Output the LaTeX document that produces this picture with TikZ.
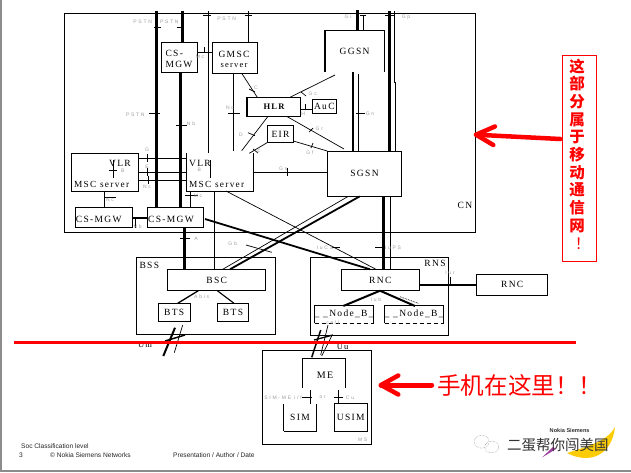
\documentclass[tikz,border=0pt]{standalone}
\usepackage{fontspec}
\usetikzlibrary{calc}
\setmainfont{Liberation Serif}
\newfontfamily\dgf[LetterSpace=14]{Liberation Serif}
\newfontfamily\lbf[LetterSpace=35]{Liberation Sans}
\newfontfamily\ftf{Liberation Sans}
\newfontfamily\cjk{Noto Sans CJK SC}
\definecolor{lblgray}{gray}{0.62}
\definecolor{redm}{RGB}{255,0,0}
\tikzset{
  thinl/.style={line width=0.7pt,black},
  thickl/.style={line width=3pt,black},
  medl/.style={line width=2pt,black},
  tick/.style={line width=0.7pt,black},
  bx/.style={draw=black,line width=0.8pt,inner sep=0pt,outer sep=0pt,fill=white},
  ghost/.style={draw=none,inner sep=0pt,outer sep=0pt},
  txt/.style={font=\dgf\fontsize{9.5}{11}\selectfont,inner sep=0pt,black},
  sml/.style={font=\dgf\fontsize{9.3}{10}\selectfont,inner sep=0pt,black},
  lbl/.style={font=\lbf\fontsize{5}{6}\selectfont,inner sep=0pt,lblgray},
  foot/.style={font=\ftf\fontsize{6.6}{8}\selectfont,inner sep=0pt,anchor=west,black!85},
  redarrow/.style={line width=4.5pt,redm,line cap=round,line join=round},
}
% name, x1, y1, x2, y2, style, text
\newcommand{\pxbox}[7]{%
  \pgfmathsetmacro{\cxv}{(#2+#4)/2}%
  \pgfmathsetmacro{\cyv}{(#3+#5)/2}%
  \pgfmathsetmacro{\wv}{#4-#2}%
  \pgfmathsetmacro{\hv}{#5-#3}%
  \node[#6,minimum width=\wv pt,minimum height=\hv pt,font=\dgf\fontsize{9.5}{11}\selectfont] (#1) at (\cxv,\cyv) {#7};}
\begin{document}
\begin{tikzpicture}[x=1pt,y=-1pt]
\useasboundingbox (0,0) rectangle (631,472);
\fill[white] (0,0) rectangle (631,472);
\fill[black!45] (0,0) rectangle (1.6,472);
\fill[black!45] (0,470) rectangle (631,472);

% --- core network frame
\pxbox{cn}{64.5}{13.5}{475.7}{232}{draw=black,line width=0.8pt,inner sep=0pt,outer sep=0pt}{}
\node[txt] (cnl) at (465,205.7) {CN};

% free ends at the top
\coordinate (pa) at (156.7,11);
\coordinate (pb) at (182,11);
\coordinate (pc) at (208.3,11);
\coordinate (pd) at (248.3,11);
\coordinate (gia) at (357.3,10);
\coordinate (gib) at (363.7,15);
\coordinate (gpa) at (389.3,11);
\coordinate (gpb) at (394.3,11);

% --- boxes
\pxbox{mgwt}{161.5}{42}{197}{72.5}{bx}{}
\node[txt,align=left] (mgwtt) at (179,59) {CS-\\MGW};
\pxbox{gmsc}{212}{42.3}{257.3}{73.3}{bx}{}
\node[txt,align=center,font=\dgf\fontsize{9.5}{11}\selectfont] (gmsct) at (234,59.5) {GMSC\\[-0.5pt]{\fontsize{8.5}{9}\selectfont server}};
\pxbox{hlr}{247.3}{97.3}{300.7}{116.7}{bx}{\bfseries\fontsize{8.5}{10}\selectfont HLR}
\draw[medl] (hlr.north west) -- (hlr.south west);
\pxbox{auc}{312.3}{99.3}{336.3}{113.3}{bx}{AuC}
\pxbox{eir}{267.7}{125.7}{293.3}{142.3}{bx}{EIR}
\pxbox{ggsn}{325}{30.3}{384.3}{71.7}{ghost}{GGSN}
\draw[line width=0.9pt] (ggsn.south east) -- (ggsn.north east) -- (ggsn.north west);
\draw[medl,line width=1.3pt] (ggsn.north west) -- (ggsn.south west);
\pxbox{sgsn}{327.3}{151}{401.7}{196.3}{bx}{SGSN}
\pxbox{vlra}{71.3}{153.3}{138.7}{191}{bx}{}
\node[txt] (vlrat) at (120,163.3) {VLR};
\node[sml] (mscat) at (101.7,184) {MSC server};
\pxbox{vlrb}{186.7}{153.3}{253.3}{191}{ghost}{}
\draw[line width=0.8pt] (vlrb.north west) -- (vlrb.south west) -- (vlrb.south east) -- (vlrb.north east);
\node[txt] (vlrbt) at (200,163.3) {VLR};
\node[sml] (mscbt) at (216.7,184) {MSC server};
\pxbox{mgwa}{75.3}{207.3}{132.7}{227.3}{bx}{}
\node[txt] (mgwat) at (98.8,219) {CS-MGW};
\pxbox{mgwb}{147.3}{207.3}{203.3}{227.3}{bx}{}
\node[txt] (mgwbt) at (171,219) {CS-MGW};

\pxbox{bss}{136.7}{257.3}{275.7}{334.3}{bx}{}
\node[txt] (bssl) at (149.3,265.7) {BSS};
\pxbox{bsc}{167.7}{269.3}{265.7}{290.7}{bx}{BSC}
\draw[line width=1.3pt] (bsc.north east) -- (bsc.south east);
\draw[line width=1.3pt] (bsc.north west) -- (bsc.south west);
\pxbox{btsa}{158.3}{303.3}{190}{321.7}{bx}{BTS}
\pxbox{btsb}{217.3}{303.3}{248.7}{321.7}{bx}{BTS}
\draw[line width=1.3pt] (btsb.north east) -- (btsb.south east);

\pxbox{rns}{310.7}{257.3}{448.3}{335.7}{bx}{}
\node[txt] (rnsl) at (435,263.3) {RNS};
\pxbox{rnc}{341.3}{269.3}{419.3}{290.7}{bx}{RNC}
\pxbox{rncb}{476.7}{274.3}{547.7}{295}{bx}{RNC}
\draw[line width=1.3pt] (rncb.north west) -- (rncb.south west);
\pxbox{nba}{315.7}{305}{372.7}{323.3}{ghost}{\_ \_Node\_B\_}
\draw[line width=0.8pt] (nba.south west) -- (nba.north west) -- (nba.north east) -- (nba.south east);
\draw[line width=0.8pt,dash pattern=on 4pt off 3pt] (nba.south west) -- (nba.south east);
\pxbox{nbb}{385.7}{305}{442.7}{323.3}{ghost}{\_ \_Node\_B\_}
\draw[line width=0.8pt] (nbb.south west) -- (nbb.north west) -- (nbb.north east) -- (nbb.south east);
\draw[line width=0.8pt,dash pattern=on 4pt off 3pt] (nbb.south west) -- (nbb.south east);

\pxbox{ms}{262.7}{350.3}{371.3}{444}{bx}{}
\node[lbl] (msl) at (362.7,440) {MS};
\pxbox{me}{302.3}{358.3}{345.7}{387.7}{ghost}{}
\node[txt,font=\dgf\fontsize{10}{11}\selectfont] (met) at (325,375.3) {ME};
\draw[line width=0.8pt] (me.south west) -- (me.north west) -- (me.north east) -- (me.south east);
\pxbox{sim}{283.7}{404}{316.3}{431}{ghost}{SIM}
\draw[line width=0.8pt] (sim.north east) -- (sim.south east) -- (sim.south west);
\draw[line width=1.3pt] (sim.south west) -- (sim.north west);
\pxbox{usim}{334.3}{403.3}{367.3}{431}{bx}{USIM}
\draw[line width=1.3pt] (usim.north east) -- (usim.south east);

% --- vertical connectors in the core
\draw[thickl] (pa) -- (pa |- mgwb.north);
\draw[thickl] (pb) -- (pb |- mgwt.north);
\coordinate (mgwx) at (180.7,73);
\draw[thickl] (mgwx) -- (mgwx |- mgwb.north);
\draw[thinl] (pc) -- (pc |- vlrb.north);
\draw[thinl] (pd) -- (pd |- gmsc.north);
\coordinate (nxa) at (233.3,73.3);
\draw[thinl] (nxa) -- (233.3,150.7);
\draw[thinl] (mgwt.east |- 0,52.7) -- (gmsc.west |- 0,52.7);
\draw[thinl] ([xshift=-15.6pt]gmsc.south east) -- ([xshift=10pt]hlr.north west);
\draw[thinl] (hlr.east |- 0,109) -- (auc.west |- 0,109);
\draw[thinl] ([xshift=13.3pt]hlr.south) -- ([xshift=-20.5pt,yshift=2pt]sgsn.north);
\draw[thinl] ([xshift=-10.7pt]hlr.north east) -- (335,75);
\draw[thinl] ([xshift=-6.3pt]hlr.south) -- (241.7,150.7);
\draw[thinl] (eir.south west) -- (249.3,153.3);
\draw[thinl] ([yshift=1.3pt]eir.south east) -- (sgsn.north west);
\draw[thinl] (vlrb.east |- 0,172.3) -- (sgsn.west |- 0,172.3);
\coordinate (gna) at (352.7,72);
\coordinate (gnb) at (358.3,74);
\draw[line width=2.3pt] (gna) -- (gna |- sgsn.north);
\draw[thinl] (gnb) -- (gnb |- sgsn.north);
\draw[thickl,line width=2.6pt] (gia) -- (gia |- ggsn.north);
\draw[thinl] (gib) -- (gib |- ggsn.north);
\draw[thickl,line width=2.6pt] (gpa) -- (gpa |- sgsn.north);
\draw[thinl] (gpb) -- (394.3,82) -- (395.3,82) -- (395.3,151);
\foreach \yy in {158.3,172.3,180}{\draw[thinl] (vlra.east |- 0,\yy) -- (vlrb.west |- 0,\yy);}
\coordinate (nca) at (104.3,191);
\draw[thinl] (nca) -- (nca |- mgwa.north);
\coordinate (mcb) at (190.7,191);
\draw[thinl] (mcb) -- (mcb |- mgwb.north);
\draw[line width=2pt] (mgwa.east |- 0,217.7) -- (mgwb.west |- 0,217.7);
\coordinate (aa) at (184.3,227.3);
\draw[thickl] (aa) -- (aa |- bsc.north);
\coordinate (ab) at (214.3,191);
\draw[thinl] (ab) -- (ab |- bsc.north);

% --- diagonals core to access
\draw[thinl] (226,191) -- (376,269.3);
\draw[line width=1.8pt] (205,219) -- (370,269.3);
\draw[line width=1.8pt] ([xshift=-4.7pt]sgsn.south) -- (230,269.3);
\draw[thinl] (348.3,196.3) -- (222.7,269.3);
\coordinate (ipa) at (383.3,196.3);
\coordinate (ipb) at (390,196.3);
\draw[thickl,line width=2.6pt] (ipa) -- (ipa |- rnc.north);
\draw[thinl] (ipb) -- (ipb |- rnc.north);
\draw[line width=1.3pt] (198.3,290.7) -- (177.7,303.3);
\draw[line width=1.1pt] (217.3,290.7) -- (234,303.3);
\draw[line width=2pt] (380,290.7) -- (343.3,306);
\draw[line width=2pt] (380,290.7) -- (415,306);
\draw[line width=0.7pt,densely dotted] (400,296.7) -- (418.3,303.3);
\draw[line width=2pt] (rnc.east |- 0,284.7) -- (rncb.west |- 0,284.7);

% --- radio links
\draw[line width=2pt] (175,327.7) -- (163.3,356);
\draw[thinl] (182.7,325) -- (174.3,352.7);
\draw[line width=1.5pt] (165,341) -- (185,335);
\draw[line width=1.5pt] (320.7,330) -- (311.7,357.3);
\draw[thinl] (328,325) -- (320.7,355);
\draw[thinl] (331.7,336) -- (321.7,356);
\draw[line width=1.3pt] (314,340) -- (333,335);

% --- ME to SIM
\coordinate (sx) at (310,390);
\coordinate (cx) at (338.3,390);
\draw[thinl] (sx) -- (sx |- sim.north);
\draw[thinl] (cx) -- (cx |- usim.north);

% --- ticks
\foreach \a/\b/\c/\d in {
  154/27/160.7/27, 177/27/182/27, 203/15/210.7/15, 244.7/15/251.7/15,
  149/113/160/113, 176/125.7/186.7/125.7, 228/113/240/113,
  204/47/204/52.7, 360/15/366/15, 385/15/394/15,
  356/113/365/113, 305/104/305/109, 147.3/154.3/147.3/162.3,
  147.3/168.3/147.3/176.3, 148/176/148/184, 113.3/160/113.3/178,
  109/170/117/170, 210.7/160/210.7/178, 287.3/168.3/287.3/176.3,
  104.3/197.7/115.7/197.7, 185/195/198/195, 135/218/135/228,
  180/238.3/190/238.3, 246/245/271.7/252.3, 331.7/247.7/340/247.7,
  375/247.3/383.3/247.3, 450/277/450/285, 301.7/397.3/312.3/397.3,
  334/397.3/343.3/397.3, 248/132.7/255/135.7, 249/89/255/92,
  253/149/258/153, 301/92/306/96, 313/128/309/132, 313/143/311/148}
  {\draw[tick] (\a,\b) -- (\c,\d);}

% --- grey interface labels
\node[lbl] (l1) at (142.7,21.7) {PSTN};
\node[lbl] (l2) at (169.3,21.7) {PSTN};
\node[lbl] (l3) at (226.7,19) {PSTN};
\node[lbl] (l4) at (135.3,115) {PSTN};
\node[lbl] (l5) at (200,57) {Mc};
\node[lbl] (l6) at (230,108) {Nc};
\node[lbl] (l7) at (191,124) {Nb};
\node[lbl] (l8) at (256,87.7) {C};
\node[lbl] (l9) at (241,134.7) {D};
\node[lbl] (l10) at (259,152) {F};
\node[lbl] (l11) at (303.3,114) {H};
\node[lbl] (l12) at (312.7,93.3) {Gc};
\node[lbl] (l13) at (319.3,128.3) {Gr};
\node[lbl] (l14) at (310,152.3) {Gf};
\node[lbl] (l15) at (283.3,168.3) {Gs};
\node[lbl] (l16) at (370,113.5) {Gn};
\node[lbl] (l17) at (348,17) {Gi};
\node[lbl] (l18) at (406,17) {Gp};
\node[lbl] (l19) at (147,150) {G};
\node[lbl] (l20) at (147,167) {E};
\node[lbl] (l21) at (147,187) {Nc};
\node[lbl] (l22) at (122.7,171) {B};
\node[lbl] (l23) at (199.3,170) {B};
\node[lbl] (l24) at (110,200) {Nc};
\node[lbl] (l25) at (198,195.7) {Mc};
\node[lbl] (l26) at (137.7,226.7) {Nb};
\node[lbl] (l27) at (196,239) {A};
\node[lbl] (l28) at (232.7,244) {Gb};
\node[lbl] (l29) at (325,247.7) {IuCS};
\node[lbl] (l30) at (393,247.3) {IuPS};
\node[lbl] (l31) at (201.7,297) {Abis};
\node[lbl] (l32) at (376,300) {Iub};
\node[lbl] (l33) at (450,273) {Iur};
\node[lbl] (l34) at (332.7,323) {cell};
\node[lbl] (l35) at (283,397.3) {SIM-ME i/f};
\node[lbl] (l36) at (322.7,397.3) {or};
\node[lbl] (l37) at (350,397.3) {Cu};
\node[txt,font=\dgf\fontsize{8.5}{10}\selectfont] (um) at (145,345) {Um};
\node[txt,font=\dgf\fontsize{8.5}{10}\selectfont] (uu) at (342.7,346.7) {Uu};

% --- red annotations
\draw[line width=2.6pt,redm] (14,342.4) -- (576,342.4);
\pxbox{redbox}{562.3}{55.3}{596.7}{261.3}{draw=redm,line width=0.8pt,inner sep=0pt,outer sep=0pt}{}
\node[inner sep=0pt,redm,align=center,font=\cjk\bfseries\fontsize{15.5}{17.7}\selectfont,anchor=north] (redt) at (577,58.5)
  {这\\部\\分\\属\\于\\移\\动\\通\\信\\网\\\hspace*{11pt}{\cjk\mdseries ！}};
\coordinate (arta) at (560.3,139);
\coordinate (arha) at (476,134.7);
\draw[redarrow] (arta) -- (arha);
\draw[redarrow] (495,126.5) -- (arha) -- (493.3,145);
\coordinate (artb) at (431.7,385);
\coordinate (arhb) at (381,385);
\draw[redarrow,line width=5pt] (artb) -- (arhb);
\draw[redarrow] (398.3,375.5) -- (arhb) -- (398.3,394.5);
\node[inner sep=0pt,redm,font=\cjk\fontsize{23.6}{25}\selectfont,anchor=west] (phone) at (437,385) {手机在这里！！};

% --- footer
\node[foot] (f1) at (21,446.3) {Soc Classification level};
\node[foot] (f2) at (19,455.5) {3};
\node[foot] (f3) at (50,455.5) {© Nokia Siemens Networks};
\node[foot] (f4) at (173,455.5) {Presentation / Author / Date};

% --- logo and watermark
\fill[yellow!65!orange] (567,453) .. controls (590,465) and (612,455) .. (615,427) .. controls (607,442) and (585,447) .. cycle;
\fill[violet!75] (542,457.5) -- (553,447) -- (556,449) -- cycle;
\node[inner sep=0pt,font=\ftf\bfseries\fontsize{5.6}{7}\selectfont,black!80,anchor=west] (nsn) at (549.5,430) {Nokia Siemens};
\node[inner sep=0pt,font=\cjk\fontsize{14.5}{16}\selectfont,black!80,anchor=west] (wm) at (507,445) {二蛋帮你闯美国};
\draw[black!45,line width=0.5pt,densely dotted] (481.7,441.7) ellipse [x radius=7.5,y radius=6.5];
\draw[black!45,line width=0.5pt,densely dotted] (491.7,447) ellipse [x radius=7,y radius=5.8];
\end{tikzpicture}
\end{document}
